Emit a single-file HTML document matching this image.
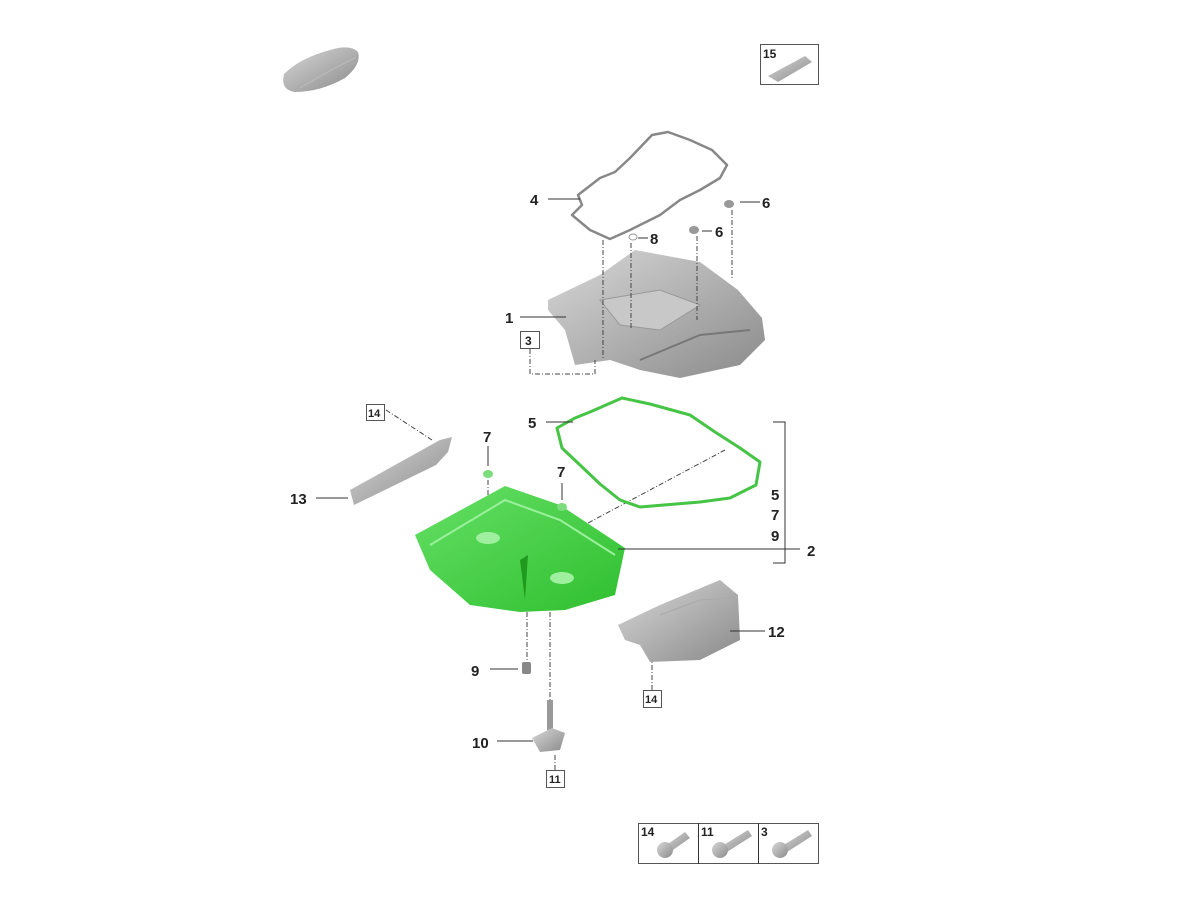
<!DOCTYPE html>
<html><head><meta charset="utf-8"><style>
html,body{margin:0;padding:0;background:#fff;}
svg{display:block}
text{font-family:"Liberation Sans",Arial,sans-serif;font-weight:bold;fill:#222}
</style></head><body>
<svg width="1200" height="900" viewBox="0 0 1200 900" xmlns="http://www.w3.org/2000/svg">
<defs>
<linearGradient id="g" x1="0" y1="0" x2="1" y2="1"><stop offset="0" stop-color="#d8d8d8"/><stop offset="1" stop-color="#8a8a8a"/></linearGradient>
<linearGradient id="gr" x1="0" y1="0" x2="1" y2="1"><stop offset="0" stop-color="#66e066"/><stop offset="1" stop-color="#2fbf2f"/></linearGradient>
</defs>
<!-- car -->
<path d="M284,74 Q300,58 330,50 Q350,44 358,52 Q362,64 345,78 Q320,92 295,92 Q280,90 284,74Z" fill="url(#g)"/>
<path d="M300,88 Q330,70 355,58" stroke="#bbb" fill="none"/>
<!-- 15 box -->
<rect x="760.5" y="44.5" width="58" height="40" fill="#fff" stroke="#555"/>
<text x="763" y="58" font-size="12">15</text>
<path d="M768,76 L805,56 L812,62 L778,82Z" fill="url(#g)"/>
<!-- gasket 4 -->
<path d="M578,195 L600,178 L615,172 L630,158 L652,135 L668,132 L690,140 L712,150 L727,165 L720,178 L700,190 L680,200 L660,215 L630,230 L610,239 L590,230 L572,215 L582,205Z" fill="none" stroke="#888" stroke-width="2.5" stroke-linejoin="round"/>
<line x1="548" y1="199" x2="580" y2="199" stroke="#333"/><text x="530" y="205" font-size="15">4</text>
<!-- small parts 6,8 -->
<ellipse cx="729" cy="204" rx="5" ry="4" fill="#999"/><line x1="740" y1="202" x2="760" y2="202" stroke="#333"/><text x="762" y="208" font-size="15">6</text>
<ellipse cx="694" cy="230" rx="5" ry="4" fill="#999"/><line x1="702" y1="231" x2="712" y2="231" stroke="#333"/><text x="715" y="237" font-size="15">6</text>
<ellipse cx="633" cy="237" rx="4" ry="3" fill="none" stroke="#999"/><line x1="638" y1="238" x2="648" y2="238" stroke="#333"/><text x="650" y="244" font-size="15">8</text>
<!-- upper pan 1 -->
<path d="M548,300 L600,275 L635,250 L700,262 L738,290 L762,318 L765,340 L740,365 L680,378 L640,370 L610,360 L575,365 L565,330 L548,310Z" fill="url(#g)"/>
<path d="M600,300 L660,290 L700,305 L660,330 L620,325Z" fill="#c8c8c8" stroke="#999"/>
<path d="M640,360 L700,335 L750,330" stroke="#777" fill="none" stroke-width="2"/>
<line x1="520" y1="317" x2="566" y2="317" stroke="#333"/><text x="505" y="323" font-size="15">1</text>
<rect x="520.5" y="331.5" width="19" height="17" fill="#fff" stroke="#555"/><text x="525" y="345" font-size="12" font-weight="normal">3</text>
<g stroke="#444" fill="none" stroke-dasharray="5,2,1,2">
<path d="M530,349 V374 H595 V360"/><line x1="603" y1="240" x2="603" y2="360"/>
<line x1="631" y1="243" x2="631" y2="330"/><line x1="697" y1="236" x2="697" y2="320"/><line x1="732" y1="210" x2="732" y2="278"/>
<line x1="725" y1="450" x2="588" y2="523"/>
<line x1="488" y1="480" x2="488" y2="525"/><line x1="562" y1="512" x2="562" y2="575"/>
<line x1="527" y1="612" x2="527" y2="660"/><line x1="550" y1="612" x2="550" y2="700"/>
<line x1="555" y1="755" x2="555" y2="770"/>
<line x1="386" y1="410" x2="432" y2="440"/><line x1="652" y1="625" x2="652" y2="690"/>
</g>
<!-- gasket 5 green -->
<path d="M557,428 L575,418 L590,412 L622,398 L650,404 L690,415 L715,432 L740,448 L760,462 L756,485 L730,498 L700,502 L640,507 L620,500 L600,484 L580,465 L562,448 Z" fill="none" stroke="#45c445" stroke-width="3" stroke-linejoin="round"/>
<line x1="546" y1="422" x2="573" y2="422" stroke="#333"/><text x="528" y="428" font-size="15">5</text>
<!-- bracket -->
<path d="M773,422 H785 V563 H773" fill="none" stroke="#333"/>
<text x="771" y="500" font-size="15">5</text><text x="771" y="520" font-size="15">7</text><text x="771" y="541" font-size="15">9</text>
<!-- green pan 2 -->
<path d="M415,535 L505,486 L560,505 L625,548 L615,595 L565,610 L520,612 L470,605 L430,570Z" fill="url(#gr)"/>
<path d="M430,545 L505,500 L560,520 L615,555" fill="none" stroke="#9af09a" stroke-width="2"/>
<ellipse cx="488" cy="538" rx="12" ry="6" fill="#9ef09e"/><ellipse cx="562" cy="578" rx="12" ry="6" fill="#9ef09e"/>
<path d="M520,560 L528,555 L525,600Z" fill="#1f9a1f"/>
<line x1="618" y1="549" x2="800" y2="549" stroke="#333"/><text x="807" y="556" font-size="15">2</text>
<ellipse cx="488" cy="474" rx="5" ry="4" fill="#7ddc7d"/><line x1="488" y1="446" x2="488" y2="466" stroke="#333"/><text x="483" y="442" font-size="15">7</text>
<ellipse cx="562" cy="507" rx="5" ry="4" fill="#7ddc7d"/><line x1="562" y1="483" x2="562" y2="500" stroke="#333"/><text x="557" y="477" font-size="15">7</text>
<!-- 14 / 13 -->
<rect x="366.5" y="404.5" width="18" height="16" fill="#fff" stroke="#555"/><text x="368" y="417" font-size="11" font-weight="normal">14</text>
<path d="M350,490 L440,440 L452,437 L448,452 L436,465 L354,505Z" fill="url(#g)"/>
<line x1="316" y1="498" x2="348" y2="498" stroke="#333"/><text x="290" y="504" font-size="15">13</text>
<!-- 12 shield -->
<path d="M618,625 L660,605 L720,580 L738,595 L740,640 L700,660 L650,662 L640,645 L625,640Z" fill="url(#g)"/>
<path d="M660,615 L700,600 L730,598" stroke="#aaa" fill="none"/>
<line x1="730" y1="631" x2="765" y2="631" stroke="#333"/><text x="768" y="637" font-size="15">12</text>
<rect x="643.5" y="690.5" width="18" height="17" fill="#fff" stroke="#555"/><text x="645" y="703" font-size="11" font-weight="normal">14</text>
<!-- 9 plug -->
<rect x="522" y="662" width="9" height="12" rx="2" fill="#888"/>
<line x1="490" y1="669" x2="518" y2="669" stroke="#333"/><text x="471" y="676" font-size="15">9</text>
<!-- 10 sensor -->
<rect x="547" y="700" width="6" height="30" fill="#999"/>
<path d="M532,738 L552,728 L565,733 L560,750 L540,752Z" fill="url(#g)"/>
<line x1="497" y1="741" x2="533" y2="741" stroke="#333"/><text x="472" y="748" font-size="15">10</text>
<rect x="546.5" y="770.5" width="18" height="17" fill="#fff" stroke="#555"/><text x="549" y="783" font-size="11" font-weight="normal">11</text>
<!-- bottom boxes -->
<rect x="638.5" y="823.5" width="180" height="40" fill="#fff" stroke="#555"/>
<line x1="698.5" y1="823" x2="698.5" y2="864" stroke="#333"/><line x1="758.5" y1="823" x2="758.5" y2="864" stroke="#333"/>
<text x="641" y="836" font-size="12">14</text><text x="701" y="836" font-size="12">11</text><text x="761" y="836" font-size="12">3</text>
<g fill="url(#g)">
<path d="M665,846 L685,832 L690,838 L670,852Z"/><circle cx="665" cy="850" r="8"/>
<path d="M722,846 L748,830 L752,836 L727,852Z"/><circle cx="720" cy="850" r="8"/>
<path d="M782,846 L808,830 L812,836 L787,852Z"/><circle cx="780" cy="850" r="8"/>
</g>
</svg>
</body></html>
